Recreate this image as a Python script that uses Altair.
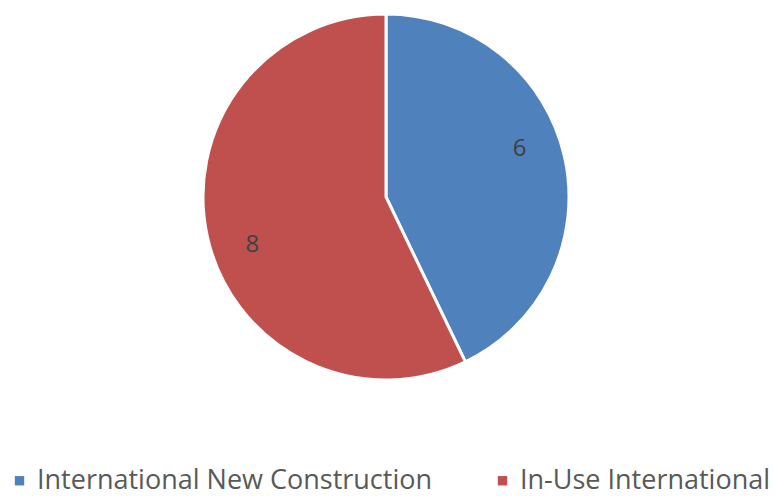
import altair as alt
import pandas as pd

categories = ["International New Construction", "In-Use International"]
values = [6, 8]
colors = ["#4F81BD", "#C0504D"]

df = pd.DataFrame({"category": categories, "value": values, "order": [0, 1]})

CX, CY = 386, 197

base = alt.Chart(df).encode(
    theta=alt.Theta("value:Q", stack=True),
    order=alt.Order("order:Q"),
    x=alt.value(CX),
    y=alt.value(CY),
)

pie = base.mark_arc(outerRadius=183, stroke="white", strokeWidth=3).encode(
    color=alt.Color(
        "category:N",
        sort=categories,
        scale=alt.Scale(domain=categories, range=colors),
        legend=alt.Legend(
            title=None,
            orient="none",
            legendX=6,
            legendY=467,
            direction="horizontal",
            symbolType="square",
            symbolSize=88,
            symbolStrokeWidth=0,
            labelFontSize=27,
            labelFont="Open Sans",
            labelColor="#595959",
            columnPadding=56,
            symbolOffset=0,
            labelOffset=4,
            labelLimit=600,
        ),
    )
)

labels = base.mark_text(
    radius=142, thetaOffset=-0.12, fontSize=24, font="Open Sans", color="#404040"
).encode(text="value:Q")

chart = (
    alt.layer(pie, labels)
    .properties(width=775, height=496, autosize=alt.AutoSizeParams(type="none"), padding=0)
    .configure_view(stroke=None)
)

chart.save("out.html", embed_options={"renderer": "svg", "actions": False})
